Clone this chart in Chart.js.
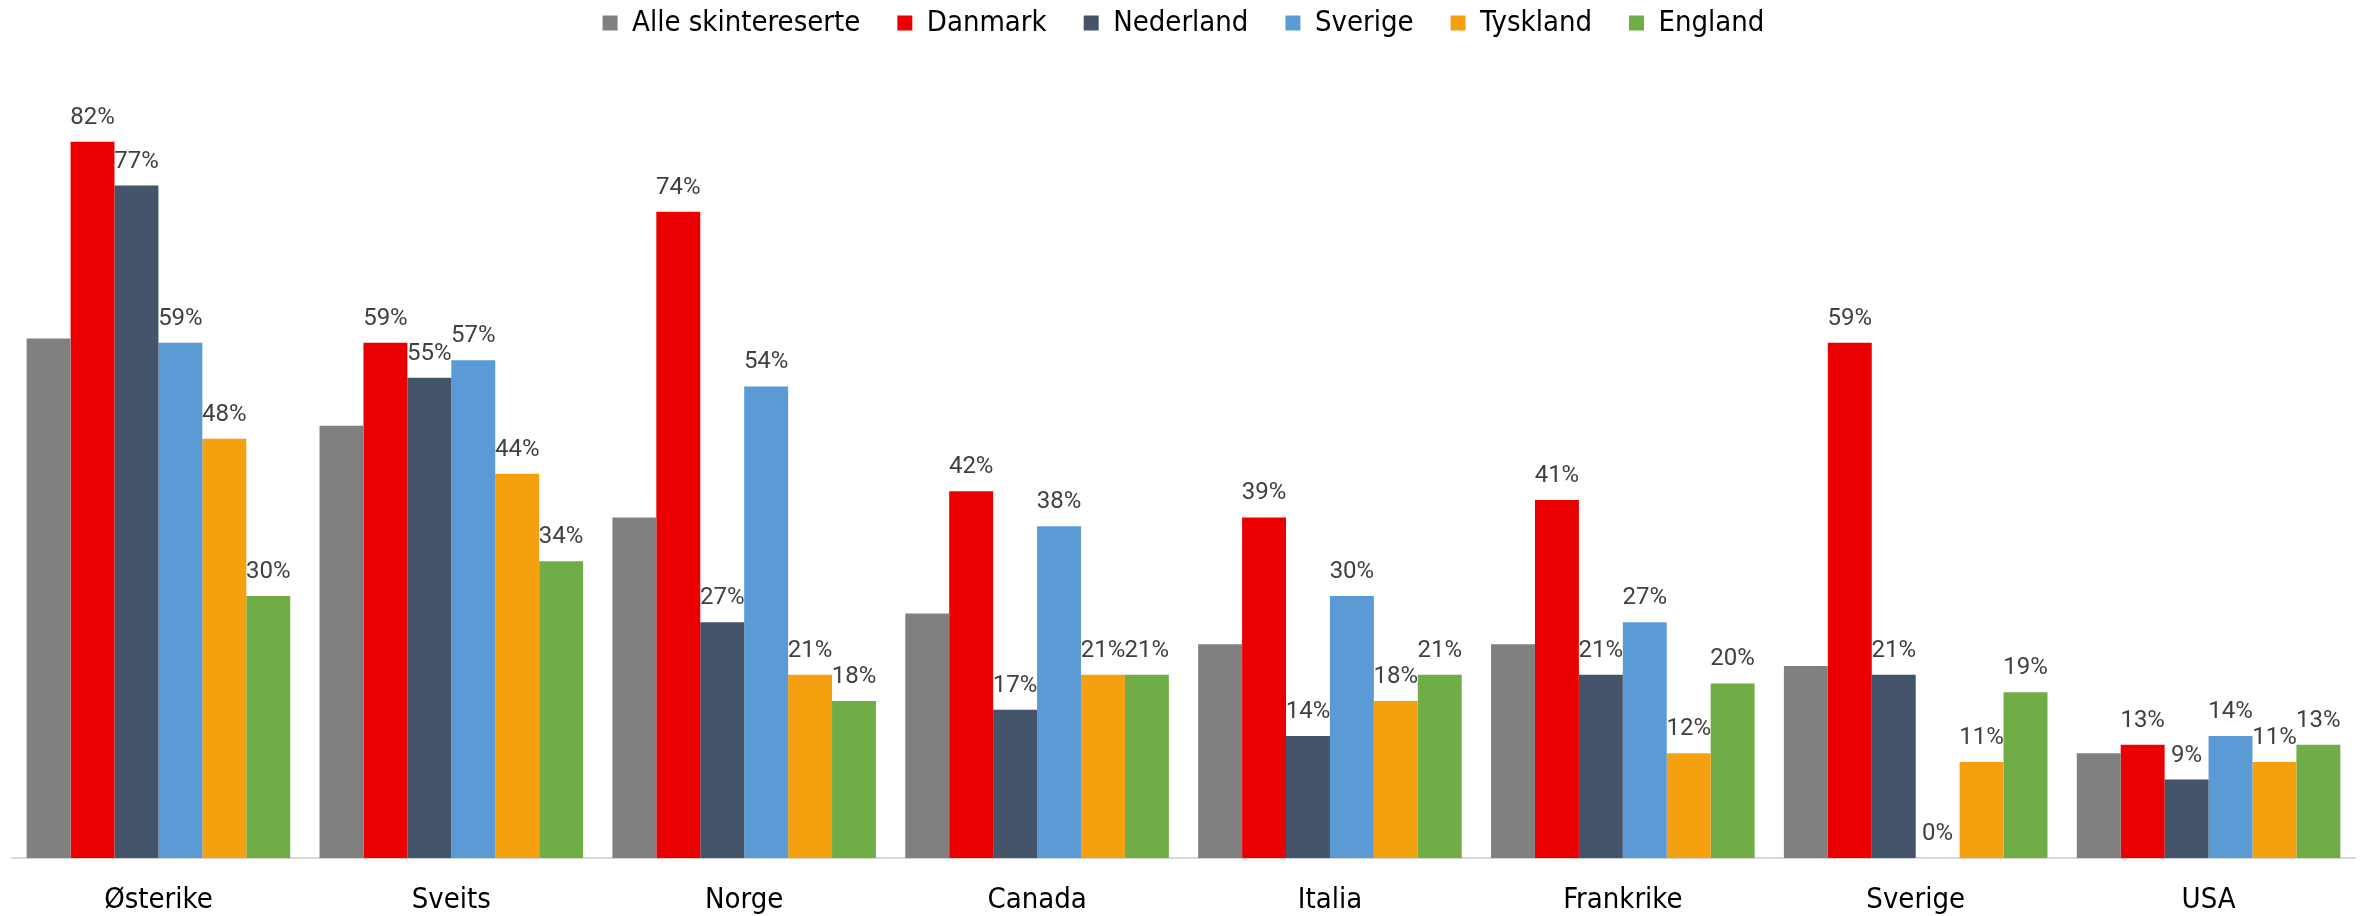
<!DOCTYPE html>
<html>
<head>
<meta charset="utf-8">
<script src="https://cdn.jsdelivr.net/npm/chart.js@4/dist/chart.umd.min.js"></script>
<style>
  html, body { margin: 0; padding: 0; background: #fff; }
  #wrap { width: 2367px; height: 916px; }
</style>
</head>
<body>
<div id="wrap"><canvas id="skiChart" width="2367" height="916"></canvas></div>
<script>
let destinations = ['Østerike', 'Sveits', 'Norge', 'Canada', 'Italia', 'Frankrike', 'Sverige', 'USA'];

let alleSkiinteresserte = [59.5, 49.5, 39, 28, 24.5, 24.5, 22, 12];
let danmark   = [82, 59, 74, 42, 39, 41, 59, 13];
let nederland = [77, 55, 27, 17, 14, 21, 21, 9];
let sverige   = [59, 57, 54, 38, 30, 27, 0, 14];
let tyskland  = [48, 44, 21, 21, 18, 12, 11, 11];
let england   = [30, 34, 18, 21, 21, 20, 19, 13];

let seriesNames = ['Alle skintereserte', 'Danmark', 'Nederland', 'Sverige', 'Tyskland', 'England'];
let seriesColors = ['#808080', '#EA0000', '#44546A', '#5B9BD5', '#F4A00F', '#70AD47'];

let narrowFont = '"Liberation Sans Narrow", "DejaVu Sans Condensed", "Arial Narrow", sans-serif';

// percentage labels above each bar, except the grey total series
let barLabels = {
    id: 'barLabels',
    afterDatasetsDraw: function(chart) {
        let ctx = chart.ctx;
        ctx.save();
        ctx.font = '24px Roboto, "Noto Sans", sans-serif';
        ctx.fillStyle = '#404040';
        ctx.textAlign = 'center';
        ctx.textBaseline = 'middle';
        chart.data.datasets.forEach(function(ds, i) {
            if (i === 0) return;
            chart.getDatasetMeta(i).data.forEach(function(bar, j) {
                ctx.fillText(Math.round(ds.data[j]) + '%', bar.x, bar.y - 24);
            });
        });
        ctx.restore();
    }
};

let allData = [alleSkiinteresserte, danmark, nederland, sverige, tyskland, england];

let ctx = document.getElementById('skiChart').getContext('2d');

let chart = new Chart(ctx, {
    type: 'bar',
    data: {
        labels: destinations,
        datasets: allData.map(function(values, i) {
            return {
                label: seriesNames[i],
                data: values,
                backgroundColor: seriesColors[i],
                borderWidth: 0,
                barPercentage: 1,
                categoryPercentage: 0.9
            };
        })
    },
    options: {
        responsive: false,
        animation: false,
        layout: {
            padding: { top: -28.5, left: 12, right: 12, bottom: -27 }
        },
        plugins: {
            tooltip: { enabled: false },
            legend: {
                position: 'top',
                labels: {
                    boxWidth: 15,
                    boxHeight: 15,
                    padding: 37,
                    color: '#000',
                    font: { family: narrowFont, size: 29 }
                }
            }
        },
        scales: {
            x: {
                grid: { display: false, drawTicks: false },
                border: { display: true, color: '#D9D9D9', width: 2 },
                ticks: {
                    color: '#000',
                    padding: 25,
                    maxRotation: 0,
                    font: { family: narrowFont, size: 29 }
                }
            },
            y: {
                display: false,
                min: 0,
                max: 92.8
            }
        }
    },
    plugins: [barLabels]
});
</script>
</body>
</html>
